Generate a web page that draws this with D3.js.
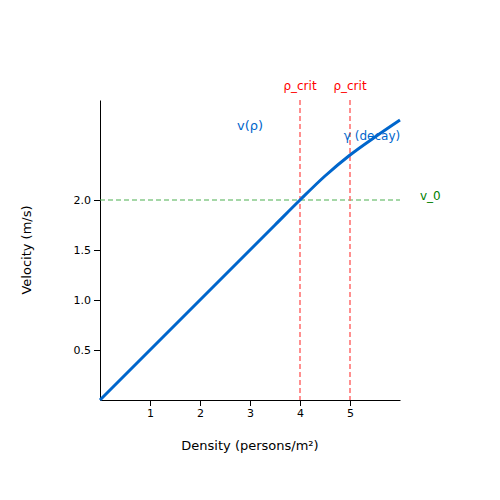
<!DOCTYPE html>
<html><head><meta charset="utf-8">
<script src="https://cdn.jsdelivr.net/npm/d3@7"></script>
<style>body{margin:0;background:#fff;font-family:"DejaVu Sans",sans-serif;}</style>
</head><body><div id="chart"></div>
<script>
// Data
const density = [0, 0.5, 1, 1.5, 2, 2.5, 3, 3.5, 4, 4.5, 5, 5.5, 6];
const velocity = [0, 0.25, 0.5, 0.75, 1.0, 1.25, 1.5, 1.75, 2.0, 2.24, 2.45, 2.63, 2.8];
const xTicks = [1, 2, 3, 4, 5];
const yTicks = [0.5, 1.0, 1.5, 2.0];
const critLines = [4, 5];
const v0 = 2.0;

const svg = d3.select("#chart").append("svg").attr("width", 500).attr("height", 500);
const x = d3.scaleLinear().domain([0, 6]).range([100, 400]);
const y = d3.scaleLinear().domain([0, 3]).range([400, 100]);

svg.append("g").attr("transform", "translate(0,400)")
    .call(d3.axisBottom(x).tickValues(xTicks).tickFormat(d3.format("d")).tickSizeOuter(0))
    .call(g => g.selectAll("text").attr("font-size", 11).attr("font-family", "DejaVu Sans"));
svg.append("g").attr("transform", "translate(100,0)")
    .call(d3.axisLeft(y).tickValues(yTicks).tickFormat(d3.format(".1f")).tickSizeOuter(0))
    .call(g => g.selectAll("text").attr("font-size", 11).attr("font-family", "DejaVu Sans"));

// reference lines
svg.append("line").attr("x1", x(0)).attr("x2", x(6)).attr("y1", y(v0)).attr("y2", y(v0))
    .attr("stroke", "#4caf50").attr("stroke-dasharray", "5,3").attr("stroke-width", 1.2);
svg.selectAll(".crit").data(critLines).enter().append("line")
    .attr("x1", d => x(d)).attr("x2", d => x(d)).attr("y1", y(3)).attr("y2", y(0))
    .attr("stroke", "#ff6b6b").attr("stroke-dasharray", "5,3").attr("stroke-width", 1.5);
svg.selectAll(".critlab").data(critLines).enter().append("text")
    .attr("x", d => x(d)).attr("y", 90).attr("text-anchor", "middle")
    .attr("fill", "red").attr("font-size", 12).text("ρ_crit");

// curve
svg.append("path").datum(density.map((d, i) => [d, velocity[i]]))
    .attr("d", d3.line().x(d => x(d[0])).y(d => y(d[1])).curve(d3.curveMonotoneX))
    .attr("fill", "none").attr("stroke", "#0066cc").attr("stroke-width", 3);

svg.append("text").attr("x", 250).attr("y", 130).attr("text-anchor", "middle")
    .attr("fill", "#0066cc").attr("font-size", 13).text("v(ρ)");
svg.append("text").attr("x", 372).attr("y", 140).attr("text-anchor", "middle")
    .attr("fill", "#0066cc").attr("font-size", 12).text("γ (decay)");
svg.append("text").attr("x", 420).attr("y", 200).attr("fill", "green").attr("font-size", 12).text("v_0");

svg.append("text").attr("x", 250).attr("y", 450).attr("text-anchor", "middle")
    .attr("font-size", 13).text("Density (persons/m²)");
svg.append("text").attr("transform", "translate(31,250) rotate(-90)").attr("text-anchor", "middle")
    .attr("font-size", 13).text("Velocity (m/s)");
</script></body></html>
